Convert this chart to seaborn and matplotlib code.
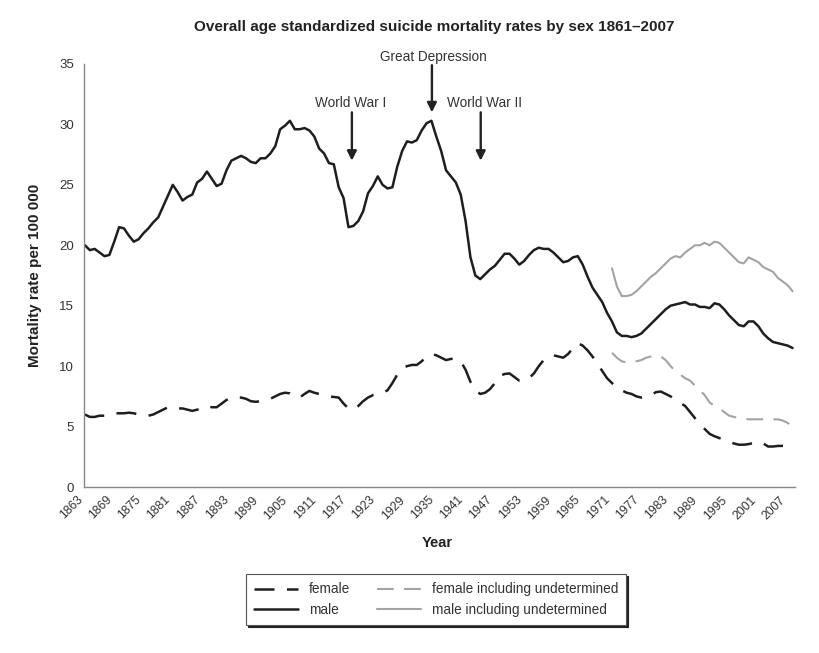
import matplotlib
matplotlib.use('Agg')
import matplotlib.pyplot as plt
import seaborn as sns
import pandas as pd

# data (rates per 100 000)
years = list(range(1863, 2009))
male = [
    20.0, 19.6, 19.7, 19.4, 19.1, 19.2, 20.3, 21.5, 21.4, 20.8,   # 1863-1872
    20.3, 20.5, 21.0, 21.4, 21.9, 22.3, 23.2, 24.1, 25.0, 24.4,   # 1873-1882
    23.7, 24.0, 24.2, 25.2, 25.5, 26.1, 25.5, 24.9, 25.1, 26.2,   # 1883-1892
    27.0, 27.2, 27.4, 27.2, 26.9, 26.8, 27.2, 27.2, 27.6, 28.2,   # 1893-1902
    29.6, 29.9, 30.3, 29.6, 29.6, 29.7, 29.5, 29.0, 28.0, 27.6,   # 1903-1912
    26.8, 26.7, 24.8, 23.9, 21.5, 21.6, 22.0, 22.8, 24.3, 24.9,   # 1913-1922
    25.7, 25.0, 24.7, 24.8, 26.5, 27.8, 28.6, 28.5, 28.7, 29.5,   # 1923-1932
    30.1, 30.3, 29.0, 27.8, 26.2, 25.7, 25.2, 24.2, 22.0, 19.0,   # 1933-1942
    17.5, 17.2, 17.6, 18.0, 18.3, 18.8, 19.3, 19.3, 18.9, 18.4,   # 1943-1952
    18.7, 19.2, 19.6, 19.8, 19.7, 19.7, 19.4, 19.0, 18.6, 18.7,   # 1953-1962
    19.0, 19.1, 18.4, 17.4, 16.5, 15.9, 15.3, 14.4, 13.7, 12.8,   # 1963-1972
    12.5, 12.5, 12.4, 12.5, 12.7, 13.1, 13.5, 13.9, 14.3, 14.7,   # 1973-1982
    15.0, 15.1, 15.2, 15.3, 15.1, 15.1, 14.9, 14.9, 14.8, 15.2,   # 1983-1992
    15.1, 14.7, 14.2, 13.8, 13.4, 13.3, 13.7, 13.7, 13.3, 12.7,   # 1993-2002
    12.3, 12.0, 11.9, 11.8, 11.7, 11.5,                           # 2003-2008
]
female = [
    6.0, 5.8, 5.8, 5.9, 5.9, 6.0, 6.1, 6.1, 6.1, 6.15,
    6.1, 6.0, 6.0, 5.9, 6.0, 6.2, 6.4, 6.6, 6.6, 6.5,
    6.5, 6.4, 6.3, 6.4, 6.5, 6.7, 6.6, 6.6, 6.9, 7.2,
    7.4, 7.4, 7.4, 7.3, 7.1, 7.05, 7.1, 7.2, 7.3, 7.5,
    7.7, 7.8, 7.75, 7.5, 7.4, 7.7, 7.95, 7.8, 7.7, 7.6,
    7.5, 7.45, 7.4, 6.9, 6.5, 6.4, 6.7, 7.1, 7.4, 7.6,
    7.7, 7.8, 8.0, 8.6, 9.3, 9.8, 10.0, 10.1, 10.1, 10.4,
    10.8, 11.0, 10.9, 10.7, 10.5, 10.6, 10.6, 10.4, 9.7, 8.7,
    8.0, 7.7, 7.8, 8.1, 8.6, 9.2, 9.35, 9.4, 9.1, 8.8,
    8.8, 9.0, 9.4, 10.0, 10.5, 10.8, 10.9, 10.8, 10.7, 11.0,
    11.5, 11.9, 11.7, 11.3, 10.8, 10.2, 9.6, 9.0, 8.6, 8.2,
    8.0, 7.8, 7.7, 7.5, 7.4, 7.45, 7.6, 7.85, 7.9, 7.7,
    7.5, 7.2, 6.95, 6.7, 6.2, 5.7, 5.2, 4.8, 4.4, 4.2,
    4.05, 3.9, 3.75, 3.6, 3.5, 3.5, 3.55, 3.65, 3.75, 3.6,
    3.35, 3.35, 3.4, 3.4, 3.35, 3.3,
]

years_und = list(range(1971, 2009))
male_und = [
    18.1, 16.6, 15.8, 15.8, 15.9, 16.2, 16.6, 17.0, 17.4, 17.7,   # 1971-1980
    18.1, 18.5, 18.9, 19.1, 19.0, 19.4, 19.7, 20.0, 20.0, 20.2,   # 1981-1990
    20.0, 20.3, 20.2, 19.8, 19.4, 19.0, 18.6, 18.5, 19.0, 18.8,   # 1991-2000
    18.6, 18.2, 18.0, 17.8, 17.3, 17.0, 16.7, 16.2,               # 2001-2008
]
female_und = [
    11.1, 10.7, 10.4, 10.3, 10.4, 10.4, 10.5, 10.7, 10.8, 10.9,
    10.8, 10.5, 10.0, 9.6, 9.3, 9.0, 8.8, 8.4, 8.0, 7.6,
    7.0, 6.7, 6.5, 6.2, 5.9, 5.8, 5.7, 5.65, 5.6, 5.6,
    5.6, 5.6, 5.6, 5.6, 5.6, 5.5, 5.3, 5.05,
]

tick_years = list(range(1863, 2008, 6))
events = ['World War I', 'Great Depression', 'World War II']

sns.set_style('white')
plt.rcParams['font.family'] = ['Liberation Sans', 'DejaVu Sans']

main = pd.DataFrame({'year': years, 'male': male, 'female': female})
und = pd.DataFrame({'year': years_und, 'male': male_und, 'female': female_und})

fig = plt.figure(figsize=(8.2, 6.53), dpi=100)
ax = fig.add_axes([0.1024, 0.2542, 0.8671, 0.6478])

dash = (0, (8, 5))
sns.lineplot(data=main, x='year', y='female', ax=ax, color='#1e1e1e', lw=1.8,
             linestyle=dash, label='female')
sns.lineplot(data=main, x='year', y='male', ax=ax, color='#1e1e1e', lw=1.8,
             label='male')
sns.lineplot(data=und, x='year', y='female', ax=ax, color='#a3a3a3', lw=1.5,
             linestyle=dash, label='female including undetermined')
sns.lineplot(data=und, x='year', y='male', ax=ax, color='#a3a3a3', lw=1.5,
             label='male including undetermined')

ax.set_xlim(1862.8, 2008.5)
ax.set_ylim(0, 35)
ax.set_yticks(range(0, 36, 5))
ax.set_xticks(tick_years)
ax.set_xticklabels([str(y) for y in tick_years], rotation=45, ha='right')
ax.set_xticks(years, minor=True)
ax.tick_params(axis='x', which='both', length=3, width=0.7, color='#777',
               labelsize=8.8, labelcolor='#333', pad=2)
ax.tick_params(axis='y', length=4, width=0.8, color='#777', labelsize=9.5,
               labelcolor='#333', pad=3)
ax.set_xlabel('')
ax.set_ylabel('')
for s in ['top', 'right']:
    ax.spines[s].set_visible(False)
for s in ['left', 'bottom']:
    ax.spines[s].set_color('#888')
    ax.spines[s].set_linewidth(1.0)

# event arrows
arrow_kw = dict(arrowstyle='-|>', color='#222', lw=1.7, mutation_scale=14,
                shrinkA=0, shrinkB=0)
ax.annotate('', xy=(1917.7, 27.0), xytext=(1917.7, 31.0), arrowprops=arrow_kw)
ax.annotate('', xy=(1934.1, 31.0), xytext=(1934.1, 34.9), arrowprops=arrow_kw,
            annotation_clip=False)
ax.annotate('', xy=(1944.1, 27.0), xytext=(1944.1, 31.0), arrowprops=arrow_kw)
ax.text(1917.5, 31.8, events[0], ha='center', va='center', fontsize=9.8, color='#333')
ax.text(1934.3, 35.6, events[1], ha='center', va='center', fontsize=9.8, color='#333',
        clip_on=False)
ax.text(1944.8, 31.8, events[2], ha='center', va='center', fontsize=9.8, color='#333')

fig.text(0.530, 0.958, 'Overall age standardized suicide mortality rates by sex 1861\u20132007',
         ha='center', va='center', fontsize=11, fontweight='bold', color='#222')
fig.text(0.043, 0.579, 'Mortality rate per 100 000', rotation=90, ha='center',
         va='center', fontsize=11, fontweight='bold', color='#222')
fig.text(0.533, 0.1685, 'Year', ha='center', va='center', fontsize=10.5,
         fontweight='bold', color='#222')

leg = ax.legend(loc='center', bbox_to_anchor=(0.532, 0.082), bbox_transform=fig.transFigure,
                ncol=2, fontsize=9.8, frameon=True, fancybox=False, handlelength=3.2,
                handletextpad=0.8, columnspacing=2.0, borderpad=0.6, labelspacing=0.45,
                shadow={'ox': 1.5, 'oy': -1.5, 'color': '#222', 'alpha': 1})
leg.get_frame().set_edgecolor('#555')
leg.get_frame().set_linewidth(0.8)
for t in leg.get_texts():
    t.set_color('#333')

fig.savefig('out.png', dpi=100)
